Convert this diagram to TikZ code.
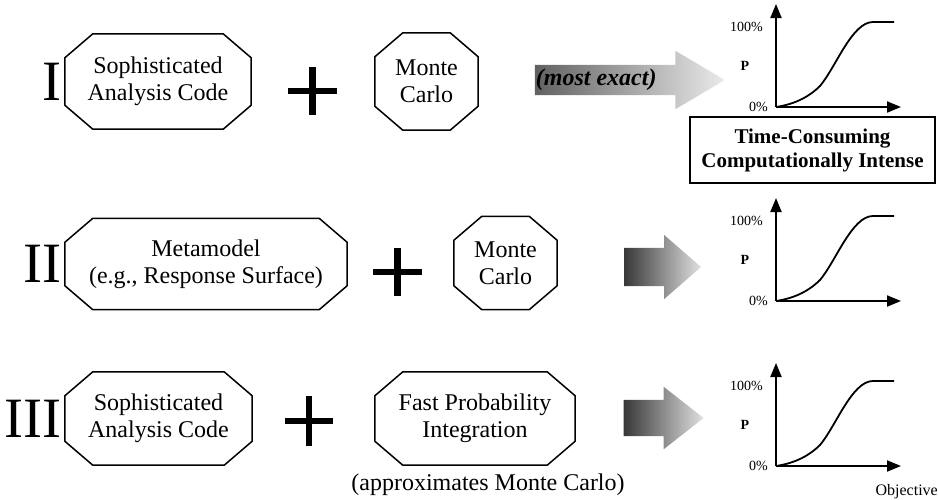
\documentclass[tikz,border=0pt]{standalone}
\usepackage{fontspec}
\setmainfont{Liberation Serif}
\usetikzlibrary{arrows.meta,positioning,shapes.arrows}
\tikzset{%
    octa/.style={rectangle, inner sep=0pt, align=center, font=\fontsize{24}{27}\selectfont},
    octline/.style={line width=1.5pt, line join=round},
    numeral/.style={inner sep=0pt, font=\fontsize{57}{57}\selectfont},
    plusbar/.style={line width=6.5pt},
    fatarrow/.style={single arrow, single arrow head indent=0pt, inner xsep=0pt,
      text height=0pt, text depth=0pt, shading=axis, left color=black!78, right color=black!12},
    axis/.style={line width=2pt, -{Triangle[length=14pt,width=11pt]}},
    cdf/.style={line width=1.8pt},
    glabel/.style={inner sep=0pt, font=\fontsize{14}{14}\selectfont},
    costbox/.style={draw, line width=1.6pt, align=center, inner sep=0pt,
      font=\bfseries\fontsize{21}{24}\selectfont},
  }
% eight-sided frame round a node
\newcommand{\octframe}[1]{%
  \draw [octline] ([xshift=28pt]#1.north west) -- ([xshift=-28pt]#1.north east)
    -- ([yshift=-24pt]#1.north east) -- ([yshift=24pt]#1.south east)
    -- ([xshift=-28pt]#1.south east) -- ([xshift=28pt]#1.south west)
    -- ([yshift=24pt]#1.south west) -- ([yshift=-24pt]#1.north west) -- cycle;}
\begin{document}
\begin{tikzpicture}[x=1pt, y=-1pt]
    \useasboundingbox (0,0) rectangle (938,499);
    % row I
    \node (a1) [octa, minimum width=186pt, minimum height=95pt] at (158,81.5) {Sophisticated\\Analysis Code};
    \node (n1) [numeral, left=3pt of a1] {I};
    \draw [plusbar] (288,91) -- (337,91) (312.5,67) -- (312.5,115);
    \node (m1) [octa, minimum width=103pt, minimum height=97pt] at (426.5,81.5) {Monte\\Carlo};
    \node (ar1) [fatarrow, left color=black!62, right color=black!8, minimum height=190pt,
      inner ysep=15pt, single arrow head extend=14pt, single arrow tip angle=61] at (617,80) {};
    \node (me) [right=0pt of ar1.west, inner sep=1pt, font=\bfseries\itshape\fontsize{24}{24}\selectfont] {(most exact)};
    \node (tc) [costbox, minimum width=245pt, minimum height=66pt] at (812.5,150) {Time-Consuming\\Computationally Intense};
    \octframe{a1}
    \octframe{m1}
    %
    % row II
    \node (a2) [octa, minimum width=282pt, minimum height=91pt] at (206,264) {Metamodel\\(e.g., Response Surface)};
    \node (n2) [numeral, left=3pt of a2] {II};
    \draw [plusbar] (373,272) -- (422,272) (397.5,248) -- (397.5,296);
    \node (m2) [octa, minimum width=103pt, minimum height=93pt] at (505.5,263) {Monte\\Carlo};
    \node (ar2) [fatarrow, minimum height=77pt, inner ysep=19pt, single arrow head extend=13pt,
      single arrow tip angle=82] at (651.5,267) {};
    \octframe{a2}
    \octframe{m2}
    %
    % row III
    \node (a3) [octa, minimum width=187pt, minimum height=93pt] at (158.5,418.5) {Sophisticated\\Analysis Code};
    \node (n3) [numeral, left=3pt of a3] {III};
    \draw [plusbar] (285,421) -- (333,421) (309,396) -- (309,446);
    \node (f3) [octa, minimum width=200pt, minimum height=93pt] at (475,418.5) {Fast Probability\\Integration};
    \node (ap) [inner sep=0pt, font=\fontsize{24}{24}\selectfont] at (488,485) {(approximates Monte Carlo)};
    \node (ar3) [fatarrow, minimum height=80pt, inner ysep=18pt, single arrow head extend=13pt,
      single arrow tip angle=76] at (652,418) {};
    \octframe{a3}
    \octframe{f3}
    %
    % the three cumulative curves
    \foreach \oy/\g in {107/1, 301/2, 466/3} {
      \begin{scope}[shift={(776,\oy)}, yscale=-1]
        \coordinate (o\g) at (0,0);
        \coordinate (y\g) at (0,103);
        \coordinate (x\g) at (125,0);
        \draw [axis] (o\g) -- (y\g);
        \draw [axis] (o\g) -- (x\g);
        \draw [cdf] (o\g) .. controls (20,3) and (34,11) .. (44,21)
          .. controls (60,40) and (76,85) .. (97,85) -- (118,85);
        \node (h\g) [glabel, anchor=east] at (-13,80) {100\%};
        \node (p\g) [glabel, font=\bfseries\fontsize{14}{14}\selectfont] at (-31,41) {P};
        \node (z\g) [glabel, anchor=east] at (-8,0) {0\%};
      \end{scope}
    }
    \node (obj) [glabel, font=\fontsize{16}{16}\selectfont, anchor=east] at (938,492) {Objective};
  \end{tikzpicture}
\end{document}
